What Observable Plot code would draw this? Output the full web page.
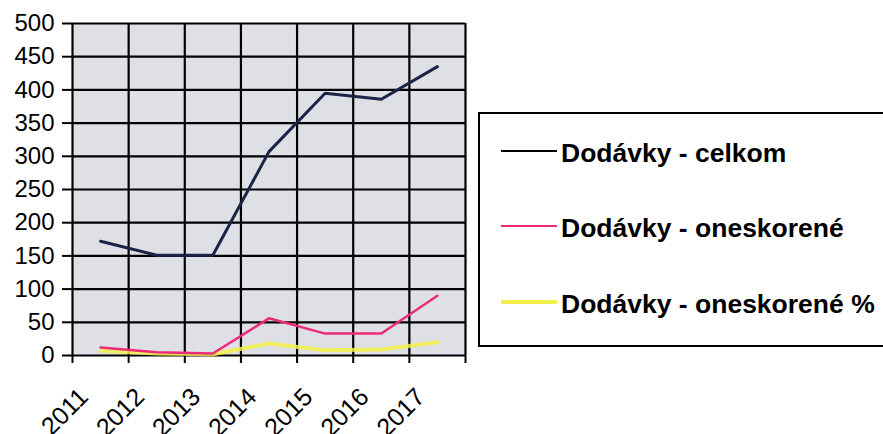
<!DOCTYPE html>
<html>
<head>
<meta charset="utf-8">
<script src="https://cdn.jsdelivr.net/npm/d3@7"></script>
<script src="https://cdn.jsdelivr.net/npm/@observablehq/plot@0.6"></script>
<style>
  html, body { margin: 0; padding: 0; background: #fff; }
  #wrap { position: relative; width: 883px; height: 434px; overflow: hidden; font-family: "Liberation Sans", Arial, sans-serif; }
  #legend { position: absolute; left: 0; top: 0; }
</style>
</head>
<body>
<div id="wrap"></div>
<script>
const years = [2011, 2012, 2013, 2014, 2015, 2016, 2017];
const celkom = [172, 151, 151, 307, 395, 386, 435];
const oneskorene = [12, 5, 3, 56, 33, 33, 90];
const oneskorenePct = [7, 3, 2, 18, 8, 9, 20];
const yTicks = [0, 50, 100, 150, 200, 250, 300, 350, 400, 450, 500];
const seriesNames = ["Dodávky - celkom", "Dodávky - oneskorené", "Dodávky - oneskorené %"];
const seriesColors = ["#1b2446", "#ee2a7b", "#f4f04a"];
const seriesWidths = [3, 2.5, 4];

const data = years.map((yr, i) => ({year: yr, celkom: celkom[i], oneskorene: oneskorene[i], pct: oneskorenePct[i]}));
const bounds = [...years.map(y => y - 0.5), years[years.length - 1] + 0.5];
const font = "Liberation Sans, Arial, sans-serif";

const chart = Plot.plot({
  width: 883,
  height: 434,
  marginLeft: 72,
  marginRight: 418,
  marginTop: 23,
  marginBottom: 79,
  style: {fontFamily: font, background: "transparent", overflow: "visible"},
  x: {domain: [bounds[0], bounds[bounds.length - 1]]},
  y: {domain: [0, 500]},
  marks: [
    Plot.frame({fill: "#dfe0e6", stroke: null}),
    Plot.ruleY(yTicks, {stroke: "#000", strokeWidth: 2.2}),
    Plot.ruleX(bounds, {stroke: "#000", strokeWidth: 2.2}),
    Plot.axisY({ticks: yTicks, tickSize: 10, tickPadding: 8, fontSize: 24, stroke: "#000", strokeWidth: 2, label: null, color: "#000"}),
    Plot.axisX({ticks: bounds, tickSize: 8, tickFormat: () => "", stroke: "#000", strokeWidth: 2, label: null}),
    Plot.text(years, {x: d => d, frameAnchor: "bottom", dx: -11, dy: 43, rotate: -45, textAnchor: "end", lineAnchor: "bottom", text: d => String(d), fontSize: 25, fill: "#000"}),
    Plot.lineY(data, {x: "year", y: "pct", stroke: seriesColors[2], strokeWidth: seriesWidths[2], strokeOpacity: 0.85}),
    Plot.lineY(data, {x: "year", y: "oneskorene", stroke: seriesColors[1], strokeWidth: seriesWidths[1]}),
    Plot.lineY(data, {x: "year", y: "celkom", stroke: seriesColors[0], strokeWidth: seriesWidths[0]})
  ]
});
document.getElementById("wrap").appendChild(chart);

// Legend
const ns = "http://www.w3.org/2000/svg";
const lg = document.createElementNS(ns, "svg");
lg.setAttribute("id", "legend");
lg.setAttribute("width", 883);
lg.setAttribute("height", 434);
const box = document.createElementNS(ns, "rect");
box.setAttribute("x", 479); box.setAttribute("y", 113);
box.setAttribute("width", 420); box.setAttribute("height", 233);
box.setAttribute("fill", "#fff"); box.setAttribute("stroke", "#000"); box.setAttribute("stroke-width", 2);
lg.appendChild(box);
const rowY = [151, 226, 302];
seriesNames.forEach((name, i) => {
  const ln = document.createElementNS(ns, "line");
  ln.setAttribute("x1", 501); ln.setAttribute("x2", 557);
  ln.setAttribute("y1", rowY[i]); ln.setAttribute("y2", rowY[i]);
  ln.setAttribute("stroke", i === 0 ? "#000" : seriesColors[i]);
  ln.setAttribute("stroke-width", i === 2 ? 4 : 2);
  lg.appendChild(ln);
  const t = document.createElementNS(ns, "text");
  t.setAttribute("x", 561); t.setAttribute("y", rowY[i] + 11);
  t.setAttribute("font-size", 26.5); t.setAttribute("font-weight", "bold");
  t.setAttribute("font-family", font);
  t.setAttribute("fill", "#000");
  t.textContent = name;
  lg.appendChild(t);
});
document.getElementById("wrap").appendChild(lg);
</script>
</body>
</html>
